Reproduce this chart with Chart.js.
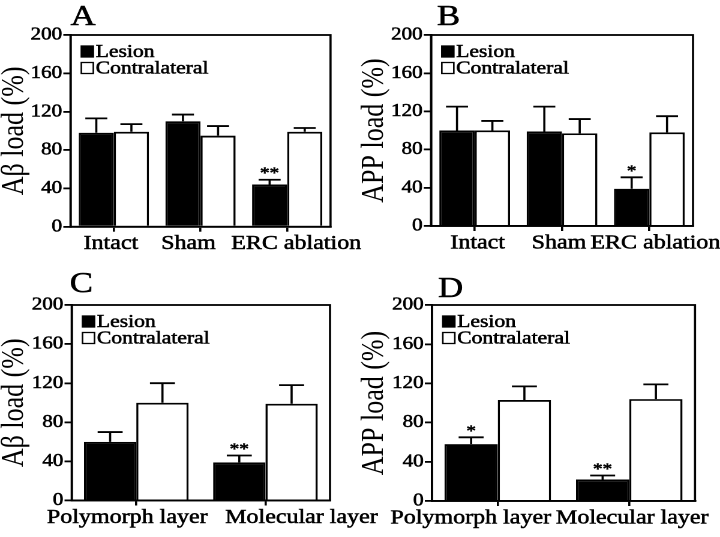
<!DOCTYPE html>
<html>
<head>
<meta charset="utf-8">
<script src="https://cdn.jsdelivr.net/npm/chart.js@4.4.0/dist/chart.umd.min.js"></script>
<style>
  body { margin: 0; background: #fff; }
  #wrap { position: relative; width: 720px; height: 537px; overflow: hidden; background: #fff; }
  canvas { position: absolute; }
</style>
</head>
<body>
<div id="wrap">
  <canvas id="chartA" width="325" height="268" style="left:0;top:0;width:390px;height:268px"></canvas>
  <canvas id="chartC" width="325" height="269" style="left:0;top:268px;width:390px;height:269px"></canvas>
  <canvas id="chartB" width="300" height="268" style="left:360px;top:0;width:360px;height:268px"></canvas>
  <canvas id="chartD" width="300" height="269" style="left:360px;top:268px;width:360px;height:269px"></canvas>
</div>
<script>
// data
const seriesNames = ["Lesion", "Contralateral"];
const groupsAB = ["Intact", "Sham", "ERC ablation"];
const groupsCD = ["Polymorph layer", "Molecular layer"];
const yTicks = [0, 40, 80, 120, 160, 200];

const lesionA = [98, 110, 44];
const lesionErrA = [15, 7, 5];
const contraA = [99, 95, 99];
const contraErrA = [8, 10, 4];
const starsA = ["", "", "**"];

const lesionB = [100, 99, 39];
const lesionErrB = [25, 26, 12];
const contraB = [100, 97, 98];
const contraErrB = [10, 15, 17];
const starsB = ["", "", "*"];

const lesionC = [60, 39];
const lesionErrC = [10, 7];
const contraC = [100, 99];
const contraErrC = [20, 19];
const starsC = ["", "**"];

const lesionD = [58, 22];
const lesionErrD = [7, 4];
const contraD = [103, 104];
const contraErrD = [14, 15];
const starsD = ["*", "**"];

const SERIF = '"Liberation Serif", "Times New Roman", serif';
const INK = 0.55; // scanned print is a bit heavier than the plain face

function inkText(ctx, s, x, y) {
  ctx.lineWidth = INK;
  ctx.strokeText(s, x, y);
  ctx.fillText(s, x, y);
}

const panelPlugin = {
  id: 'panel',
  afterDatasetsDraw(chart, args, opts) {
    const ctx = chart.ctx, a = chart.chartArea, y = chart.scales.y;
    ctx.save();
    ctx.strokeStyle = '#000';
    ctx.fillStyle = '#000';
    // error bars (upper only) and significance marks
    chart.data.datasets.forEach((ds, di) => {
      chart.getDatasetMeta(di).data.forEach((bar, i) => {
        const top = y.getPixelForValue(ds.data[i] + ds.errors[i]);
        ctx.lineWidth = 1.8;
        ctx.beginPath();
        ctx.moveTo(bar.x, bar.y);
        ctx.lineTo(bar.x, top);
        ctx.moveTo(bar.x - opts.cap / 2, top);
        ctx.lineTo(bar.x + opts.cap / 2, top);
        ctx.stroke();
        if (ds.stars && ds.stars[i]) {
          ctx.font = '16px ' + SERIF;
          ctx.textAlign = 'center';
          ctx.textBaseline = 'alphabetic';
          inkText(ctx, ds.stars[i], bar.x, top - 1.5);
        }
      });
    });
    // frame
    ctx.lineWidth = 1.8;
    ctx.strokeRect(a.left, a.top, a.right - a.left, a.bottom - a.top);
    // legend inside the plot
    chart.data.datasets.forEach((ds, di) => {
      const bx = a.left + 9, by = a.top + 11 + di * 16.5;
      ctx.fillStyle = ds.backgroundColor;
      ctx.fillRect(bx, by, 10, 11);
      ctx.lineWidth = 1.3;
      ctx.strokeRect(bx, by, 10, 11);
      ctx.fillStyle = '#000';
      ctx.font = '18px ' + SERIF;
      ctx.textAlign = 'left';
      ctx.textBaseline = 'alphabetic';
      inkText(ctx, ds.label, bx + 12, a.top + 22 + di * 16.5);
    });
    // panel letter
    ctx.font = '29px ' + SERIF;
    ctx.textAlign = 'left';
    inkText(ctx, opts.letter, a.left + opts.letterDx, opts.letterY);
    ctx.restore();
  }
};

function panel(id, o) {
  const c = document.getElementById(id);
  const W = c.width, H = c.height;
  const SX = parseFloat(c.style.width) / W; // scan is wider than tall: canvas is stretched sideways
  const left = o.area[0] / SX, right = o.area[2] / SX;
  new Chart(c, {
    type: 'bar',
    data: {
      labels: o.labels,
      datasets: [
        { label: seriesNames[0], data: o.lesion, errors: o.lesionErr, stars: o.stars,
          backgroundColor: '#000', borderColor: '#000', borderWidth: 1.8,
          categoryPercentage: 0.81, barPercentage: 1 },
        { label: seriesNames[1], data: o.contra, errors: o.contraErr,
          backgroundColor: '#fff', borderColor: '#000', borderWidth: 1.8,
          categoryPercentage: 0.81, barPercentage: 1 }
      ]
    },
    options: {
      responsive: false,
      animation: false,
      devicePixelRatio: 2,
      layout: { padding: { left: 0, top: o.area[1], right: W - right, bottom: 0 } },
      plugins: {
        legend: { display: false },
        tooltip: { enabled: false },
        panel: { letter: o.letter, letterDx: o.letterDx / SX, letterY: o.letterY, cap: o.cap / SX }
      },
      scales: {
        x: {
          grid: { offset: false, drawOnChartArea: false, tickLength: 5, color: '#000', lineWidth: 1.8 },
          border: { color: '#000', width: 1.8 },
          ticks: {
            autoSkip: false, maxRotation: 0, minRotation: 0, padding: 0, color: '#000',
            textStrokeColor: '#000', textStrokeWidth: INK,
            font: { family: SERIF, size: 20 },
            callback: (v, i) => ' '.repeat(o.pads[i][0]) + o.labels[i] + ' '.repeat(o.pads[i][1])
          },
          afterFit: s => { s.height = H - o.area[3]; s.paddingLeft = 0; s.paddingRight = 0; }
        },
        y: {
          min: yTicks[0],
          max: yTicks[yTicks.length - 1],
          grid: { drawOnChartArea: false, tickLength: 6, color: '#000', lineWidth: 1.8 },
          border: { color: '#000', width: 1.8 },
          ticks: { stepSize: yTicks[1] - yTicks[0], padding: 1, color: '#000',
                   textStrokeColor: '#000', textStrokeWidth: INK,
                   font: { family: SERIF, size: 17.5 } },
          title: { display: true, text: o.yTitle, color: '#000', padding: 0,
                   font: { family: SERIF, size: 26, lineHeight: 0.95 } },
          afterFit: s => { s.width = left; s.paddingTop = 0; s.paddingBottom = 0; }
        }
      }
    },
    plugins: [panelPlugin]
  });
}

panel('chartA', { labels: groupsAB, lesion: lesionA, lesionErr: lesionErrA, contra: contraA, contraErr: contraErrA,
  stars: starsA, yTitle: 'A\u03b2 load (%)', letter: 'A', letterDx: 0, letterY: 25, cap: 22,
  area: [70.5, 35, 330.5, 226.7], pads: [[0, 1], [0, 4], [3, 0]] });
panel('chartB', { labels: groupsAB, lesion: lesionB, lesionErr: lesionErrB, contra: contraB, contraErr: contraErrB,
  stars: starsB, yTitle: 'APP load (%)', letter: 'B', letterDx: 6, letterY: 25, cap: 22,
  area: [71, 35, 333, 226], pads: [[1, 0], [0, 1], [2, 0]] });
panel('chartC', { labels: groupsCD, lesion: lesionC, lesionErr: lesionErrC, contra: contraC, contraErr: contraErrC,
  stars: starsC, yTitle: 'A\u03b2 load (%)', letter: 'C', letterDx: -2, letterY: 24, cap: 25,
  area: [71.7, 37, 330, 232.5], pads: [[0, 3], [12, 0]] });
panel('chartD', { labels: groupsCD, lesion: lesionD, lesionErr: lesionErrD, contra: contraD, contraErr: contraErrD,
  stars: starsD, yTitle: 'APP load (%)', letter: 'D', letterDx: 6, letterY: 29, cap: 25,
  area: [72, 37, 335, 233], pads: [[0, 9], [1, 0]] });
</script>
</body>
</html>
